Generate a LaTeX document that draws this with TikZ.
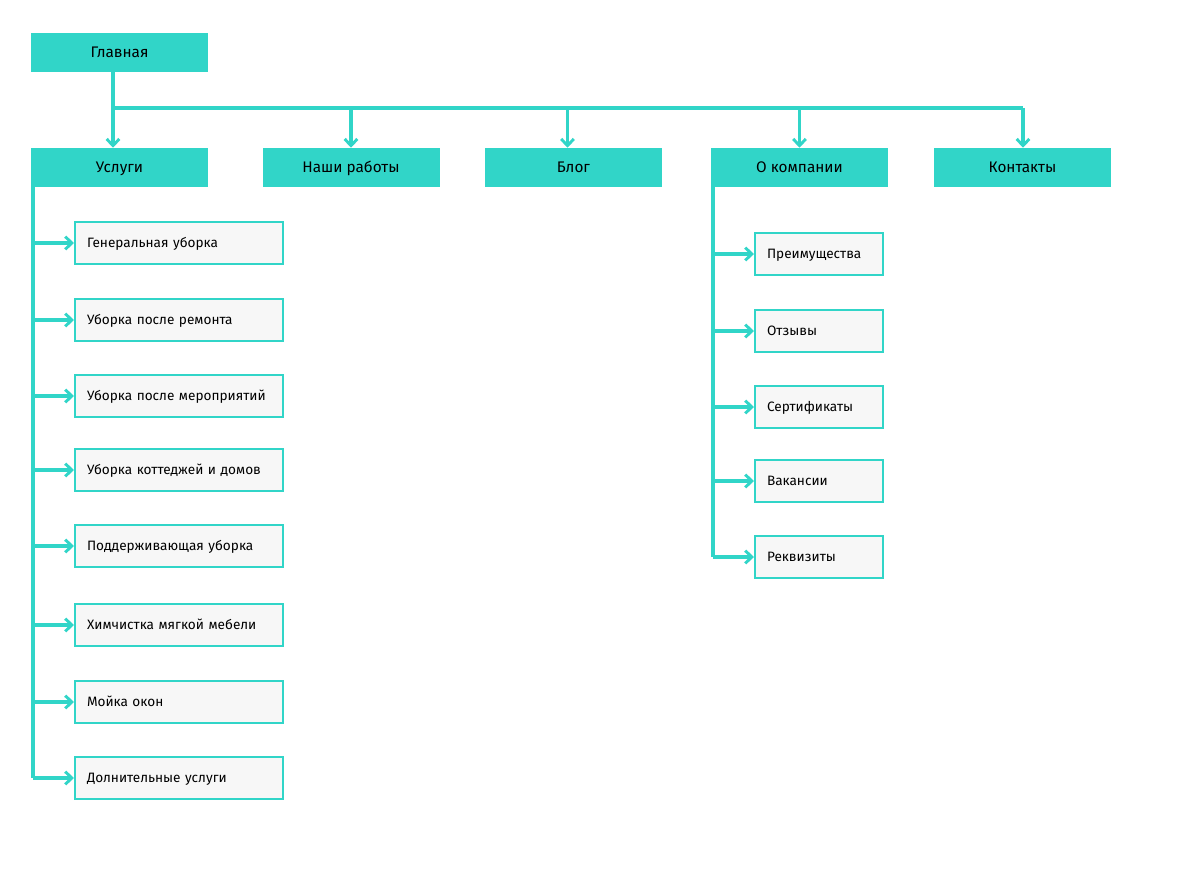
\documentclass[tikz,border=0pt]{standalone}
\usepackage{fontspec}
\setmainfont{Fira Sans}
\usepackage{tikz}
\usetikzlibrary{arrows.meta}
\usetikzlibrary{calc}

\definecolor{teal1}{HTML}{31D5C8}
\definecolor{boxgray}{HTML}{F7F7F7}

\tikzset{
    head/.style={fill=teal1,minimum width=132.75pt,minimum height=29.25pt,inner sep=0,text height=0.7em,text depth=0pt,font=\fontsize{11.5}{13}\selectfont},
    sub/.style={draw=teal1,line width=1.5pt,fill=boxgray,anchor=west,minimum height=31.5pt,inner xsep=9pt,align=left,text height=0.7em,text depth=0pt,font=\fontsize{10.2}{12}\selectfont},
    line/.style={draw=teal1,line width=2.3pt},
    arr/.style={line,-{Straight Barb[length=5pt,width=9.5pt,line width=2.2pt]}}
}

\begin{document}
\begin{tikzpicture}[x=0.75pt,y=-0.75pt]
    \useasboundingbox (0,0) rectangle (1180,888);

    \node[head] (glav) at (119.5,52.5) {Главная};
    \node[head] (usl) at (119.5,167.5) {Услуги};
    \node[head] (works) at (351,167.5) {Наши работы};
    \node[head] (blog) at (573.5,167.5) {Блог};
    \node[head] (about) at (799.5,167.5) {О компании};
    \node[head] (cont) at (1022.5,167.5) {Контакты};

    % services
    \node[sub,text width=138pt] (s1) at (74,243) {Генеральная уборка};
    \node[sub,text width=138pt] (s2) at (74,320) {Уборка после ремонта};
    \node[sub,text width=138pt] (s3) at (74,396) {Уборка после мероприятий};
    \node[sub,text width=138pt] (s4) at (74,470) {Уборка коттеджей и домов};
    \node[sub,text width=138pt] (s5) at (74,546) {Поддерживающая уборка};
    \node[sub,text width=138pt] (s6) at (74,625) {Химчистка мягкой мебели};
    \node[sub,text width=138pt] (s7) at (74,702) {Мойка окон};
    \node[sub,text width=138pt] (s8) at (74,778) {Долнительные услуги};

    % company
    \node[sub,text width=78pt] (c1) at (754,254) {Преимущества};
    \node[sub,text width=78pt] (c2) at (754,331) {Отзывы};
    \node[sub,text width=78pt] (c3) at (754,407) {Сертификаты};
    \node[sub,text width=78pt] (c4) at (754,481) {Вакансии};
    \node[sub,text width=78pt] (c5) at (754,557) {Реквизиты};

    \coordinate (top) at (113,72);
    \coordinate (bus) at (113,108);
    \coordinate (busend) at (1023,108);
    \coordinate (uv) at (33,187);
    \coordinate (av) at (713,187);

    \draw[line] (bus) -- (busend);
    \draw[arr] (top) -- (usl.north -| top);
    \draw[arr] (works.north |- bus) -- (works.north);
    \draw[arr] ($(blog.north |- bus)+(-6,0)$) -- ($(blog.north)+(-6,0)$);
    \draw[arr] (about.north |- bus) -- (about.north);
    \draw[arr] (busend) -- (cont.north -| busend);

    \draw[line] (uv) -- (uv |- s8);
    \draw[arr] (uv |- s1) -- (s1.west);
    \draw[arr] (uv |- s2) -- (s2.west);
    \draw[arr] (uv |- s3) -- (s3.west);
    \draw[arr] (uv |- s4) -- (s4.west);
    \draw[arr] (uv |- s5) -- (s5.west);
    \draw[arr] (uv |- s6) -- (s6.west);
    \draw[arr] (uv |- s7) -- (s7.west);
    \draw[arr] (uv |- s8) -- (s8.west);

    \draw[line] (av) -- (av |- c5);
    \draw[arr] (av |- c1) -- (c1.west);
    \draw[arr] (av |- c2) -- (c2.west);
    \draw[arr] (av |- c3) -- (c3.west);
    \draw[arr] (av |- c4) -- (c4.west);
    \draw[arr] (av |- c5) -- (c5.west);
\end{tikzpicture}
\end{document}
